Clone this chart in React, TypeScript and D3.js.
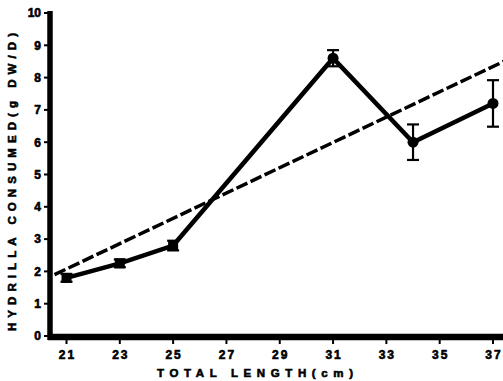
import React from "react";
import * as d3 from "d3";

const lengths = [21, 23, 25, 31, 34, 37];
const consumed = [1.8, 2.25, 2.8, 8.6, 6.0, 7.2];
const errors = [0.12, 0.12, 0.15, 0.25, 0.55, 0.72];
const regX = [20.55, 37.4];
const regY = [1.9, 8.5];
const xTicks = [21, 23, 25, 27, 29, 31, 33, 35, 37];
const yTicks = [0, 1, 2, 3, 4, 5, 6, 7, 8, 9, 10];

const W = 503;
const H = 381;
const FONT = "'Liberation Sans', Arial, sans-serif";

export default function App() {
  const x = d3.scaleLinear().domain([21, 37]).range([66.5, 493]);
  const y = d3.scaleLinear().domain([0, 10]).range([336, 13]);
  const line = d3
    .line<number>()
    .x((_, i) => x(lengths[i]))
    .y((d) => y(d));
  const reg = d3
    .line<number>()
    .x((_, i) => x(regX[i]))
    .y((d) => y(d));
  const axisX0 = 50;
  const axisY0 = 337;
  const textStroke = { stroke: "#000", strokeWidth: 0.6 };
  return (
    <svg
      width={W}
      height={H}
      style={{ position: "absolute", left: 0, top: 0, background: "#fff" }}
    >
      <rect width={W} height={H} fill="#fff" />
      {/* dashed regression */}
      <path
        d={reg(regY) || ""}
        fill="none"
        stroke="#000"
        strokeWidth={3.5}
        strokeDasharray="12,3.5"
      />
      {/* data line */}
      <path
        d={line(consumed) || ""}
        fill="none"
        stroke="#000"
        strokeWidth={4.5}
        strokeLinejoin="miter"
      />
      {/* error bars */}
      {lengths.map((l, i) => (
        <g key={"e" + i} stroke="#000" strokeWidth={2.2}>
          <line x1={x(l)} x2={x(l)} y1={y(consumed[i] - errors[i])} y2={y(consumed[i] + errors[i])} />
          <line x1={x(l) - 6} x2={x(l) + 6} y1={y(consumed[i] + errors[i])} y2={y(consumed[i] + errors[i])} />
          <line x1={x(l) - 6} x2={x(l) + 6} y1={y(consumed[i] - errors[i])} y2={y(consumed[i] - errors[i])} />
        </g>
      ))}
      {/* markers */}
      {lengths.map((l, i) =>
        i < 3 ? (
          <rect
            key={"m" + i}
            x={x(l) - 5}
            y={y(consumed[i]) - 5}
            width={10}
            height={10}
            fill="#000"
          />
        ) : (
          <circle key={"m" + i} cx={x(l)} cy={y(consumed[i])} r={5.5} fill="#000" />
        )
      )}
      {/* axes */}
      <line x1={axisX0} x2={axisX0} y1={11} y2={axisY0 + 3} stroke="#000" strokeWidth={5.5} />
      <line x1={axisX0 - 2} x2={W} y1={axisY0} y2={axisY0} stroke="#000" strokeWidth={6.5} />
      {yTicks.map((t) => (
        <g key={"yt" + t}>
          <line x1={axisX0 - 6} x2={axisX0} y1={y(t)} y2={y(t)} stroke="#000" strokeWidth={2} />
          <text
            x={axisX0 - 9}
            y={y(t)}
            dy="0.36em"
            textAnchor="end"
            fontFamily={FONT}
            fontWeight="bold"
            fontSize={12}
            {...textStroke}
          >
            {t}
          </text>
        </g>
      ))}
      {xTicks.map((t) => (
        <g key={"xt" + t}>
          <line x1={x(t)} x2={x(t)} y1={axisY0} y2={axisY0 + 7} stroke="#000" strokeWidth={2} />
          <text
            x={x(t) + 1}
            y={359}
            textAnchor="middle"
            fontFamily={FONT}
            fontWeight="bold"
            fontSize={12}
            letterSpacing={2}
            {...textStroke}
          >
            {t}
          </text>
        </g>
      ))}
      <text
        x={157}
        y={377}
        fontFamily={FONT}
        fontWeight="bold"
        fontSize={11.5}
        textLength={196}
        lengthAdjust="spacing"
        {...textStroke}
      >
        TOTAL  LENGTH(cm)
      </text>
      <text
        transform="translate(16,331) rotate(-90)"
        fontFamily={FONT}
        fontWeight="bold"
        fontSize={11.5}
        textLength={298}
        lengthAdjust="spacing"
        {...textStroke}
      >
        HYDRILLA  CONSUMED(g DW/D)
      </text>
    </svg>
  );
}
